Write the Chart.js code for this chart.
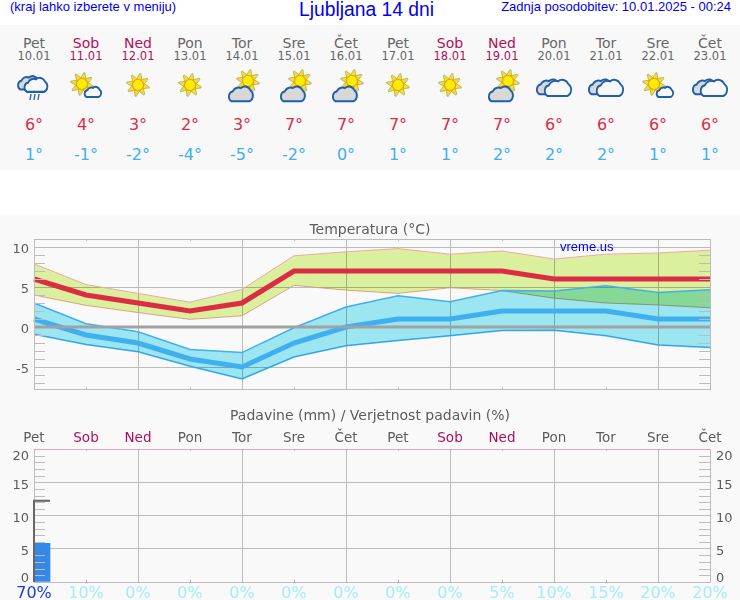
<!DOCTYPE html>
<html>
<head>
<meta charset="utf-8">
<title>Ljubljana 14 dni</title>
<script src="https://cdn.jsdelivr.net/npm/chart.js@4"></script>
<style>
  html, body { margin: 0; padding: 0; background: #fff; }
  #page { position: relative; width: 740px; height: 600px; overflow: hidden; font-family: "DejaVu Sans", sans-serif; }
  .top { position: absolute; font-family: "Liberation Sans", Arial, sans-serif; color: #0000f0; white-space: nowrap; }
  #panel { position: absolute; left: 0; top: 25px; width: 740px; height: 145px; background: #f8f8f8; }
  #lower { position: absolute; left: 0; top: 215px; width: 740px; height: 385px; background: #f9f9f9; }
  .cell { position: absolute; width: 52px; text-align: center; white-space: nowrap; }
  canvas { position: absolute; left: 0; top: 0; }
</style>
</head>
<body>
<div id="page">
  <div class="top" style="left:10px;top:0;font-size:13px;line-height:14px">(kraj lahko izberete v meniju)</div>
  <div class="top" style="left:299px;top:-1px;font-size:19.3px;line-height:22px">Ljubljana 14 dni</div>
  <div class="top" style="right:9px;top:0;font-size:13px;line-height:14px">Zadnja posodobitev: 10.01.2025 - 00:24</div>
  <div id="panel"></div>
  <div id="lower"></div>
  <div id="days"></div>
  <div style="position:absolute;left:0;top:215px;width:740px;height:185px"><canvas id="tempChart" width="740" height="185"></canvas></div>
  <div style="position:absolute;left:0;top:400px;width:740px;height:200px"><canvas id="rainChart" width="740" height="200"></canvas></div>
  <div class="top" style="left:560px;top:240px;font-size:13px;line-height:14px">vreme.us</div>
</div>
<script>
const days = ['Pet', 'Sob', 'Ned', 'Pon', 'Tor', 'Sre', 'Čet', 'Pet', 'Sob', 'Ned', 'Pon', 'Tor', 'Sre', 'Čet'];
const dates = ['10.01', '11.01', '12.01', '13.01', '14.01', '15.01', '16.01', '17.01', '18.01', '19.01', '20.01', '21.01', '22.01', '23.01'];
const icons = ['rain', 'sunCloud', 'sun', 'sun', 'cloudSun', 'cloudSun', 'cloudSun', 'sun', 'sun', 'cloudSun', 'clouds', 'clouds', 'sunCloud', 'clouds'];

const highMean = [6, 4, 3, 2, 3, 7, 7, 7, 7, 7, 6, 6, 6, 6];
const highTop = [7.9, 5.3, 4.2, 3.1, 4.7, 8.9, 9.4, 9.8, 9.1, 9.5, 8.5, 9.1, 9.25, 9.6];
const highBottom = [4.0, 2.7, 1.8, 0.95, 1.4, 5.2, 4.6, 4.2, 4.9, 4.55, 3.6, 3.0, 2.75, 2.4];
const lowMean = [1, -1, -2, -4, -5, -2, 0, 1, 1, 2, 2, 2, 1, 1];
const lowTop = [3.0, 0.4, -0.6, -2.8, -3.2, -0.1, 2.5, 3.9, 3.15, 4.55, 4.5, 5.15, 4.3, 4.65];
const lowBottom = [-0.9, -2.2, -3.1, -4.9, -6.5, -3.75, -2.35, -1.7, -1.1, -0.45, -0.4, -1.1, -2.25, -2.55];
const zeroLine = [0, 0, 0, 0, 0, 0, 0, 0, 0, 0, 0, 0, 0, 0];

const rain = [5.8, 0, 0, 0, 0, 0, 0, 0, 0, 0, 0, 0, 0, 0];
const rainMax = [12.2, 0, 0, 0, 0, 0, 0, 0, 0, 0, 0, 0, 0, 0];
const rainChance = ['70%', '10%', '0%', '0%', '0%', '0%', '0%', '0%', '0%', '5%', '10%', '15%', '20%', '20%'];

const tempTicks = [-5, 0, 5, 10];
const tempMinor = [-7, -6, -4, -3, -2, -1, 1, 2, 3, 4, 6, 7, 8, 9];
const rainTicks = [0, 5, 10, 15, 20];
const rainMinor = [1, 2, 3, 4, 6, 7, 8, 9, 11, 12, 13, 14, 16, 17, 18, 19];

const GRID = '#bcbcbc';
const TEXT = '#5c5c5c';
const WEEKEND = '#b0105a';
const RED = '#dc2c44';
const BLUE = '#40aff0';

// header icons, drawn around the middle of each day column
function sunSvg(x, y, r) {
  let rays = '';
  for (let a = 0; a < 360; a += 45) {
    rays += `<polygon points="-2.6,${-r} 2.6,${-r} 0.6,${-r - 6} -0.6,${-r - 6}" fill="#f6e21a" stroke="#b0a468" stroke-width=".7" transform="translate(${x} ${y}) rotate(${a + 12})"/>`;
  }
  return rays + `<circle cx="${x}" cy="${y}" r="${r}" fill="#ffee00" stroke="#f0a020" stroke-width="1.2"/>`;
}
function cloudSvg(x, y, s, fill) {
  const p = 'M-9 6H8A5 5 0 0 0 9 -3A6 6 0 0 0 0 -5A6.5 6.5 0 0 0 -8 -2A4.2 4.2 0 0 0 -9 6Z';
  return `<path d="${p}" transform="translate(${x} ${y}) scale(${s} ${s * 1.15})" fill="${fill}" stroke="#1f5ea8" stroke-width="${1.8 / s}"/>`;
}
const iconParts = {
  sun: () => sunSvg(0, -2, 5.5),
  sunCloud: () => sunSvg(-4, -3, 5.5) + cloudSvg(7, 5, 0.72, '#f8f8f8'),
  cloudSun: () => sunSvg(6, -6, 5.5) + cloudSvg(-1, 7, 1.05, '#d8d8d8'),
  clouds: () => cloudSvg(-5, 0, 1.05, '#d8d8d8') + cloudSvg(4, 1, 1.15, '#f8f8f8'),
  rain: () => cloudSvg(-5, -4, 0.95, '#d8d8d8') + cloudSvg(2, -2, 1.0, '#f8f8f8') +
    '<path d="M-3 7L-4 13M1 7L0 13M5 7L4 13" stroke="#3f6f9f" stroke-width="1.5"/>'
};

let html = '';
days.forEach((d, i) => {
  const left = 34 + i * 52 - 26;
  const col = (d === 'Sob' || d === 'Ned') ? WEEKEND : '#666';
  html += `<div class="cell" style="left:${left}px;top:35px;font-size:14px;line-height:16px;color:${col}">${d}</div>`;
  html += `<div class="cell" style="left:${left}px;top:49px;font-size:11.5px;line-height:14px;color:${col}">${dates[i]}</div>`;
  html += `<svg style="position:absolute;left:${left}px;top:67px" width="52" height="36" viewBox="-26 -20 52 36">${iconParts[icons[i]]()}</svg>`;
  html += `<div class="cell" style="left:${left}px;top:114px;font-size:16px;line-height:22px;color:${RED}">${highMean[i]}°</div>`;
  html += `<div class="cell" style="left:${left}px;top:144px;font-size:16px;line-height:22px;color:${BLUE}">${lowMean[i]}°</div>`;
});
document.getElementById('days').innerHTML = html;

// fills are multiplied so the overlap of the two bands goes darker, lines stay normal
const multiplyFills = {
  id: 'multiplyFills',
  beforeDatasetsDraw(chart) { chart.ctx.globalCompositeOperation = 'multiply'; },
  beforeDatasetDraw(chart) { chart.ctx.globalCompositeOperation = 'source-over'; },
  afterDatasetDraw(chart) { chart.ctx.globalCompositeOperation = 'multiply'; },
  afterDatasetsDraw(chart) { chart.ctx.globalCompositeOperation = 'source-over'; }
};

// short ticks inside the plot and the frame
function frameAndTicks(minor, topColor) {
  return {
    id: 'frameAndTicks',
    afterDatasetsDraw(chart) {
      const { ctx, chartArea: a, scales } = chart;
      ctx.save();
      ctx.lineWidth = 1;
      ctx.strokeStyle = GRID;
      ctx.beginPath();
      minor.forEach(v => {
        const y = Math.round(scales.y.getPixelForValue(v)) + 0.5;
        ctx.moveTo(a.left, y); ctx.lineTo(a.left + 11, y);
        ctx.moveTo(a.right - 11, y); ctx.lineTo(a.right, y);
      });
      days.forEach((d, i) => {
        if (i % 2 === 0) return;
        const x = Math.round(scales.x.getPixelForValue(i)) + 0.5;
        ctx.moveTo(x, a.bottom - 2); ctx.lineTo(x, a.bottom);
      });
      ctx.moveTo(a.left + 0.5, a.top); ctx.lineTo(a.left + 0.5, a.bottom);
      ctx.moveTo(a.right + 0.5, a.top); ctx.lineTo(a.right + 0.5, a.bottom);
      ctx.moveTo(a.left, a.bottom + 0.5); ctx.lineTo(a.right + 1, a.bottom + 0.5);
      ctx.stroke();
      ctx.strokeStyle = topColor;
      ctx.beginPath();
      days.forEach((d, i) => {
        if (i % 2 === 0) return;
        const x = Math.round(scales.x.getPixelForValue(i)) + 0.5;
        ctx.moveTo(x, a.top); ctx.lineTo(x, a.top + 2);
      });
      ctx.moveTo(a.left, a.top + 0.5); ctx.lineTo(a.right + 1, a.top + 0.5);
      ctx.stroke();
      ctx.restore();
    }
  };
}

// y labels drawn by hand so they can sit where the original puts them
function yLabels(values, both, offset, topGap, bottomGap) {
  return {
    id: 'yLabels',
    afterDraw(chart) {
      const { ctx, chartArea: a, scales } = chart;
      ctx.save();
      ctx.font = '13px "DejaVu Sans"';
      ctx.fillStyle = TEXT;
      ctx.textBaseline = 'middle';
      values.forEach(v => {
        const y = Math.min(Math.max(scales.y.getPixelForValue(v) + offset, a.top + topGap), a.bottom - bottomGap);
        ctx.textAlign = 'right';
        ctx.fillText(String(v), a.left - 5, y);
        if (both) {
          ctx.textAlign = 'left';
          ctx.fillText(String(v), a.right + 6, y);
        }
      });
      ctx.restore();
    }
  };
}

const evenGrid = c => (c.index % 2 === 0 ? GRID : 'transparent');

// empty axis on the right, only holds the 30px margin so the titles stay centred on the page
const rightMargin = {
  position: 'right',
  min: 0,
  max: 1,
  grid: { drawOnChartArea: false, drawTicks: false },
  border: { display: false },
  ticks: { display: false },
  afterFit: s => { s.width = 30; }
};

function band(data, edge, width, fill) {
  return { data, borderColor: edge, borderWidth: width, backgroundColor: fill, fill: fill ? '+1' : false, pointRadius: 0, tension: 0 };
}
function mean(data, color, width) {
  return { data, borderColor: color, borderWidth: width, fill: false, pointRadius: 0, tension: 0, borderCapStyle: 'butt' };
}

new Chart(document.getElementById('tempChart'), {
  type: 'line',
  data: {
    labels: days,
    datasets: [
      mean(zeroLine, '#a2a2a2', 3),
      mean(highMean, RED, 5),
      mean(lowMean, BLUE, 5),
      band(lowTop, BLUE, 1.5, '#9be6f0'),
      band(lowBottom, BLUE, 1.5),
      band(highTop, '#f0a8a0', 1, '#dbf09e'),
      band(highBottom, '#f0a8a0', 1)
    ]
  },
  options: {
    responsive: false,
    animation: false,
    layout: { autoPadding: false, padding: 0 },
    plugins: {
      legend: { display: false },
      tooltip: { enabled: false },
      title: {
        display: true,
        text: 'Temperatura (°C)',
        color: TEXT,
        font: { family: 'DejaVu Sans', size: 14, weight: 'normal', lineHeight: '17px' },
        padding: { top: 7, bottom: 0 }
      }
    },
    scales: {
      x: {
        grid: { color: evenGrid, drawTicks: false },
        border: { display: false },
        ticks: { display: false },
        afterFit: s => { s.height = 11; }
      },
      y: {
        min: -7.75,
        max: 11,
        afterBuildTicks: s => { s.ticks = tempTicks.map(value => ({ value })); },
        afterFit: s => { s.width = 34; },
        grid: { color: GRID, drawTicks: false },
        border: { display: false },
        ticks: { display: false }
      },
      margin: rightMargin
    }
  },
  plugins: [multiplyFills, frameAndTicks(tempMinor, GRID), yLabels(tempTicks, false, 2.5, 0, 0)]
});

// max-rain bracket
const rainBracket = {
  id: 'rainBracket',
  afterDatasetsDraw(chart) {
    const { ctx, chartArea: a, scales } = chart;
    ctx.save();
    ctx.strokeStyle = '#666';
    ctx.lineWidth = 2;
    rainMax.forEach((v, i) => {
      if (!v) return;
      const x = scales.x.getPixelForValue(i);
      const y = scales.y.getPixelForValue(v);
      ctx.beginPath();
      ctx.moveTo(x, a.bottom);
      ctx.lineTo(x, y);
      ctx.lineTo(x + 16, y);
      ctx.stroke();
    });
    ctx.restore();
  }
};

new Chart(document.getElementById('rainChart'), {
  type: 'bar',
  data: {
    labels: days,
    datasets: [{
      data: rain,
      backgroundColor: c => (c.raw > 0 ? '#3388e8' : 'transparent'),
      borderWidth: 0,
      barThickness: 32
    }]
  },
  options: {
    responsive: false,
    animation: false,
    layout: { autoPadding: false, padding: 0 },
    plugins: {
      legend: { display: false },
      tooltip: { enabled: false },
      title: {
        display: true,
        text: 'Padavine (mm) / Verjetnost padavin (%)',
        color: TEXT,
        font: { family: 'DejaVu Sans', size: 14, weight: 'normal', lineHeight: '14px' },
        padding: { top: 9, bottom: 1 }
      }
    },
    scales: {
      x: {
        position: 'top',
        offset: false,
        grid: { color: evenGrid, drawTicks: false, offset: false },
        border: { display: false },
        ticks: {
          color: c => (days[c.index] === 'Sob' || days[c.index] === 'Ned') ? WEEKEND : TEXT,
          autoSkip: false,
          maxRotation: 0,
          padding: 2,
          font: { family: 'DejaVu Sans', size: 13.5 }
        },
        afterFit: s => { s.height = 25; }
      },
      pct: {
        axis: 'x',
        type: 'category',
        position: 'bottom',
        offset: false,
        labels: rainChance,
        grid: { display: false, drawTicks: false },
        border: { display: false },
        ticks: {
          color: c => (c.index === 0 ? '#1a40e0' : '#a4ecf8'),
          autoSkip: false,
          maxRotation: 0,
          padding: 2,
          font: { family: 'DejaVu Sans', size: 16 }
        },
        afterFit: s => { s.height = 18; }
      },
      y: {
        min: 0,
        max: 20,
        afterBuildTicks: s => { s.ticks = rainTicks.map(value => ({ value })); },
        afterFit: s => { s.width = 34; },
        grid: { color: GRID, drawTicks: false },
        border: { display: false },
        ticks: { display: false }
      },
      margin: rightMargin
    }
  },
  plugins: [frameAndTicks(rainMinor, '#e8a4c4'), rainBracket, yLabels(rainTicks, true, 3.2, 8, 3.5)]
});
</script>
</body>
</html>
